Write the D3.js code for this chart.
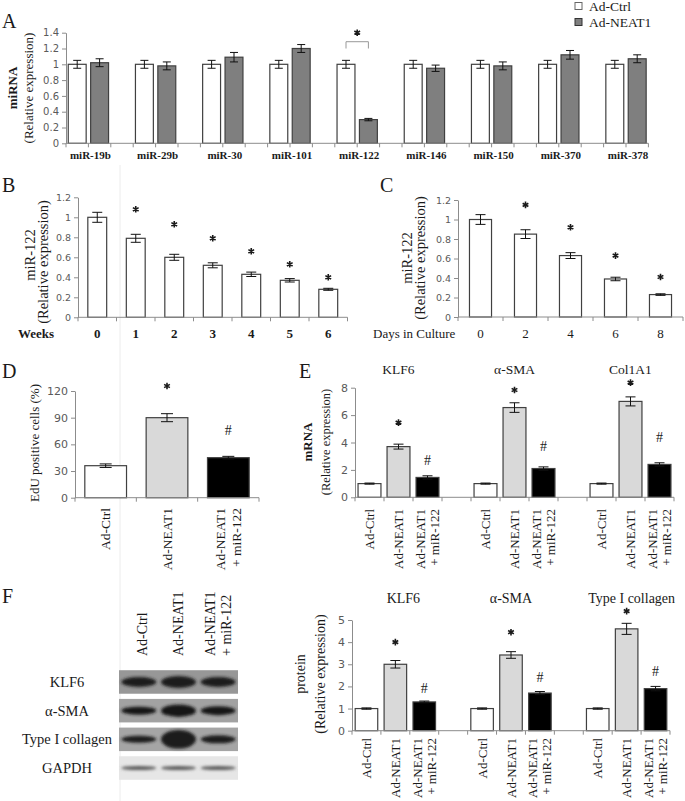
<!DOCTYPE html>
<html><head><meta charset="utf-8">
<script src="https://cdn.jsdelivr.net/npm/d3@7"></script>
<style>body{margin:0;background:#fff}svg{display:block}</style>
</head><body><script>
// ================= DATA =================
// Panel A
const aCategories = ["miR-19b","miR-29b","miR-30","miR-101","miR-122","miR-146","miR-150","miR-370","miR-378"];
const aSeries = ["Ad-Ctrl","Ad-NEAT1"];
const aCtrl = [1,1,1,1,1,1,1,1,1];
const aCtrlErr = [0.05,0.05,0.05,0.05,0.05,0.05,0.05,0.05,0.05];
const aNeat = [1.02,0.98,1.09,1.20,0.30,0.95,0.98,1.12,1.07];
const aNeatErr = [0.05,0.05,0.06,0.05,0.015,0.04,0.05,0.055,0.05];
const aTicks = [0,0.2,0.4,0.6,0.8,1,1.2,1.4];
const aSigCategory = "miR-122";
const aSigLevel = [1.2,1.286,1.40]; // leg bottom, bracket, star
// Panel B
const bWeeks = ["0","1","2","3","4","5","6"];
const bValues = [1.00,0.79,0.60,0.52,0.43,0.37,0.28];
const bErr = [0.05,0.04,0.03,0.025,0.022,0.017,0.01];
const bStars = [null,1.08,0.93,0.79,0.66,0.53,0.40];
const bcTicks = [0,0.2,0.4,0.6,0.8,1,1.2];
// Panel C
const cDays = ["0","2","4","6","8"];
const cValues = [1.00,0.85,0.63,0.39,0.23];
const cErr = [0.05,0.045,0.03,0.018,0.008];
const cStars = [null,1.15,0.92,0.63,0.41];
// Groups used in D, E, F
const groups3 = [["Ad-Ctrl"],["Ad-NEAT1"],["Ad-NEAT1","+ miR-122"]];
const groupNames = ["Ad-Ctrl","Ad-NEAT1","Ad-NEAT1 + miR-122"];
// Panel D
const dValues = [36,90,45];
const dErr = [2,4.5,1.5];
const dMarks = ["","*","#"];
const dMarkAt = [null,125.6,76];
const dTicks = [0,30,60,90,120];
// Panel E
const eGenes = ["KLF6","α-SMA","Col1A1"];
const eValues = [[1,3.7,1.45],[1,6.55,2.1],[1,7.0,2.4]];
const eErr = [[0.04,0.18,0.12],[0.04,0.35,0.12],[0.04,0.33,0.12]];
const eStarAt = [5.45,7.83,8.37];
const eHashAt = [2.72,3.70,4.35];
const eTicks = [0,2,4,6,8];
// Panel F
const fProteins = ["KLF6","α-SMA","Type I collagen"];
const fValues = [[1,3.0,1.3],[1,3.42,1.7],[1,4.6,1.9]];
const fErr = [[0.03,0.17,0.04],[0.03,0.15,0.07],[0.03,0.25,0.1]];
const fStarAt = [4.0,4.45,5.4];
const fHashAt = [1.92,2.42,2.67];
const fTicks = [0,1,2,3,4,5];
// Western blot (relative band intensity per lane)
const blotRows = ["KLF6","α-SMA","Type I collagen","GAPDH"];
const blotIntensity = [[1.0,1.2,1.0],[0.8,1.25,0.9],[0.7,1.85,0.8],[0.42,0.42,0.42]];

// ================= STYLE =================
const SERIF = "'Liberation Serif','Times New Roman',serif";
const SANS = "'DejaVu Sans',Verdana,sans-serif";
const AX = "#8c8c8c";
const BAR_STROKE = "#404040";
const FILL3 = ["#ffffff","#d9d9d9","#000000"];

const svg = d3.select("body").append("svg").attr("width",685).attr("height",801);

// faint divider (scan artifact)
svg.append("line").attr("x1",120).attr("x2",120).attr("y1",165).attr("y2",801).attr("stroke","#ececec");

function text(x,y,s,fs,opts={}){
  const t = svg.append("text").attr("x",x).attr("y",y).text(s)
    .attr("font-family",opts.family||SERIF).attr("font-size",fs)
    .attr("fill",opts.fill||"#1a1a1a")
    .attr("text-anchor",opts.anchor||"start");
  if(opts.bold) t.attr("font-weight","bold");
  return t;
}
function rotText(x,y,s,fs,opts={}){
  const t = svg.append("text").attr("transform",`translate(${x},${y}) rotate(-90)`)
    .attr("dy","0.35em").text(s)
    .attr("font-family",SERIF).attr("font-size",fs).attr("fill","#1a1a1a")
    .attr("text-anchor",opts.anchor||"middle");
  if(opts.bold) t.attr("font-weight","bold");
  return t;
}
function mark(x,cy,s,fs){
  if(s==="*"){
    const r = 3.3;
    const d = [90,30,150].map(a=>{
      const rad = a*Math.PI/180, dx = r*Math.cos(rad), dy = r*Math.sin(rad);
      return `M${x-dx},${cy-dy}L${x+dx},${cy+dy}`;
    }).join("");
    svg.append("path").attr("d",d).attr("stroke","#1a1a1a").attr("stroke-width",1.6).attr("fill","none");
  } else {
    text(x,cy+0.34*fs,s,fs,{anchor:"middle"});
  }
}
function yAxis(scale,x,ticks,fs){
  const g = svg.append("g").attr("transform",`translate(${x},0)`)
    .call(d3.axisLeft(scale).tickValues(ticks).tickSize(4).tickSizeOuter(0).tickPadding(3).tickFormat(d3.format("~g")));
  g.attr("font-family",SANS).attr("font-size",fs);
  g.select(".domain").attr("stroke",AX);
  g.selectAll(".tick line").attr("stroke",AX);
  g.selectAll(".tick text").attr("fill","#5a5a5a");
}
function xBaseline(x,y0){
  const r = x.range();
  svg.append("line").attr("x1",r[0]).attr("x2",r[1]).attr("y1",y0).attr("y2",y0).attr("stroke",AX);
  const bounds = x.domain().map(d=>x(d)).concat([r[1]]);
  svg.append("g").selectAll("line").data(bounds).join("line")
    .attr("x1",d=>d).attr("x2",d=>d).attr("y1",y0).attr("y2",y0+4).attr("stroke",AX);
}
function drawBars(data,x,y,frac,cap){
  const bw = x.bandwidth();
  const g = svg.append("g");
  g.selectAll("rect").data(data).join("rect")
    .attr("x",d=>x(d.slot)+bw*(1-frac)/2).attr("width",bw*frac)
    .attr("y",d=>y(d.v)).attr("height",d=>y(0)-y(d.v))
    .attr("fill",d=>d.fill).attr("stroke",BAR_STROKE).attr("stroke-width",1.2);
  const eg = g.append("g").attr("stroke","#111").attr("stroke-width",1);
  data.forEach(d=>{
    const cx = x(d.slot)+bw/2;
    eg.append("line").attr("x1",cx).attr("x2",cx).attr("y1",y(d.v-d.e)).attr("y2",y(d.v+d.e));
    eg.append("line").attr("x1",cx-cap/2).attr("x2",cx+cap/2).attr("y1",y(d.v-d.e)).attr("y2",y(d.v-d.e));
    eg.append("line").attr("x1",cx-cap/2).attr("x2",cx+cap/2).attr("y1",y(d.v+d.e)).attr("y2",y(d.v+d.e));
  });
}

// ================= PANEL A =================
text(2,28,"A",20);
const aSlots = [];
aCategories.forEach((c,i)=>{aSlots.push(c+"|ctrl",c+"|neat"); if(i<aCategories.length-1) aSlots.push(c+"|gap");});
const ax = d3.scaleBand().domain(aSlots).range([66,648.4]);
const ay = d3.scaleLinear().domain([0,1.4]).range([143.3,32.7]);
const aBars = aCategories.flatMap((c,i)=>[
  {slot:c+"|ctrl",v:aCtrl[i],e:aCtrlErr[i],fill:"#ffffff"},
  {slot:c+"|neat",v:aNeat[i],e:aNeatErr[i],fill:"#7f7f7f"}]);
drawBars(aBars,ax,ay,0.8,8);
xBaseline(ax,ay(0));
yAxis(ay,ax.range()[0],aTicks,10);
aCategories.forEach(c=>{
  text(ax(c+"|neat")+2,159,c,11,{anchor:"middle",bold:true});
});
// significance bracket
{
  const x1 = ax(aSigCategory+"|ctrl")+ax.bandwidth()/2, x2 = ax(aSigCategory+"|neat")+ax.bandwidth()/2;
  svg.append("path").attr("d",`M${x1},${ay(aSigLevel[0])}V${ay(aSigLevel[1])}H${x2}V${ay(aSigLevel[0])}`)
    .attr("fill","none").attr("stroke","#999").attr("stroke-width",1);
  mark((x1+x2)/2,ay(aSigLevel[2]),"*",13);
}
rotText(12,88,"miRNA",13,{bold:true});
rotText(28,88,"(Relative expression)",13);
// legend
aSeries.forEach((s,i)=>{
  const cy = 6+i*16;
  svg.append("rect").attr("x",575).attr("y",cy-3.5).attr("width",7).attr("height",7)
    .attr("fill",i===0?"#fff":"#7f7f7f").attr("stroke",i===0?"#666":"#333").attr("stroke-width",1);
  text(589,cy+4.5,s,13.5);
});

// ================= PANEL B =================
text(2,192,"B",20);
const bx = d3.scaleBand().domain(bWeeks).range([78,347.5]);
const by = d3.scaleLinear().domain([0,1.2]).range([317.3,197.3]);
drawBars(bWeeks.map((w,i)=>({slot:w,v:bValues[i],e:bErr[i],fill:"#fff"})),bx,by,0.49,10);
xBaseline(bx,by(0));
yAxis(by,bx.range()[0],bcTicks,9.5);
bWeeks.forEach((w,i)=>{
  text(bx(w)+bx.bandwidth()/2,337.5,w,13,{anchor:"middle",bold:true});
  if(bStars[i]!=null) mark(bx(w)+bx.bandwidth()/2,by(bStars[i]),"*",13);
});
text(18,337.5,"Weeks",13,{bold:true});
rotText(30,255,"miR-122",14.5);
rotText(43,262,"(Relative expression)",14.5);

// ================= PANEL C =================
text(380,192,"C",20);
const cx = d3.scaleBand().domain(cDays).range([458,683]);
const cy = d3.scaleLinear().domain([0,1.2]).range([317,200]);
drawBars(cDays.map((d,i)=>({slot:d,v:cValues[i],e:cErr[i],fill:"#fff"})),cx,cy,0.49,10);
xBaseline(cx,cy(0));
yAxis(cy,cx.range()[0],bcTicks,9.5);
cDays.forEach((d,i)=>{
  text(cx(d)+cx.bandwidth()/2,337.5,d,13,{anchor:"middle"});
  if(cStars[i]!=null) mark(cx(d)+cx.bandwidth()/2,cy(cStars[i]),"*",13);
});
text(373,337.5,"Days in Culture",13);
rotText(407,258,"miR-122",14.5);
rotText(420,258,"(Relative expression)",14.5);

// helper for rotated multi-line group labels
function groupLabels(x,slots,yTop,fs,gap){
  slots.forEach((s,i)=>{
    const c = x(s)+x.bandwidth()/2;
    const lines = groups3[i%3];
    lines.forEach((ln,j)=>{
      const off = (j-(lines.length-1)/2)*gap;
      rotText(c+off,yTop,ln,fs,{anchor:"end"});
    });
  });
}

// ================= PANEL D =================
text(2,378,"D",20);
const dx = d3.scaleBand().domain(groupNames).range([75,259]);
const dy = d3.scaleLinear().domain([0,120]).range([497.7,391]);
drawBars(groupNames.map((g,i)=>({slot:g,v:dValues[i],e:dErr[i],fill:FILL3[i]})),dx,dy,0.68,12);
xBaseline(dx,dy(0));
yAxis(dy,dx.range()[0],dTicks,11);
groupNames.forEach((g,i)=>{ if(dMarks[i]) mark(dx(g)+dx.bandwidth()/2,dy(dMarkAt[i]),dMarks[i],14); });
groupLabels(dx,groupNames,508,13.5,16);
rotText(34,443,"EdU positive cells (%)",13);

// ================= PANEL E =================
text(299,378,"E",20);
const eSlots = [];
eGenes.forEach((g,i)=>{ groupNames.forEach(n=>eSlots.push(g+"|"+n)); if(i<eGenes.length-1) eSlots.push(g+"|gap"); });
const ex = d3.scaleBand().domain(eSlots).range([355,674]);
const ey = d3.scaleLinear().domain([0,8]).range([497.3,387.7]);
const eBars = eGenes.flatMap((g,gi)=>groupNames.map((n,i)=>({slot:g+"|"+n,v:eValues[gi][i],e:eErr[gi][i],fill:FILL3[i]})));
drawBars(eBars,ex,ey,0.79,10);
xBaseline(ex,ey(0));
yAxis(ey,ex.range()[0],eTicks,11);
eGenes.forEach((g,gi)=>{
  const c1 = ex(g+"|"+groupNames[1])+ex.bandwidth()/2;
  const c2 = ex(g+"|"+groupNames[2])+ex.bandwidth()/2;
  text(c1,374,g,13.5,{anchor:"middle"});
  mark(c1,ey(eStarAt[gi]),"*",13);
  mark(c2,ey(eHashAt[gi]),"#",14);
});
groupLabels(ex,eBars.map(d=>d.slot),509,13,14);
rotText(307,442,"mRNA",13,{bold:true});
rotText(326,442,"(Relative expression)",12.5);

// ================= PANEL F : blot =================
text(2,603,"F",20);
const lane = d3.scaleBand().domain(groupNames).range([119,238]);
const row = d3.scaleBand().domain(blotRows).range([668.5,781.5]).paddingInner(0.18).paddingOuter(0.06);
const bandH = d3.scaleLinear().domain([0,1]).range([0,5]);
const defs = svg.append("defs");
defs.append("filter").attr("id","blur").attr("x","-30%").attr("y","-100%").attr("width","160%").attr("height","300%")
  .append("feGaussianBlur").attr("stdDeviation",1.6);
const rowBg = ["#979797","#a2a2a2","#a5a5a5","#e6e6e6"];
const rowInk = ["#1c1c1c","#151515","#1a1a1a","#5a5a5a"];
blotRows.forEach((r,ri)=>{
  svg.append("rect").attr("x",lane.range()[0]).attr("width",lane.range()[1]-lane.range()[0])
    .attr("y",row(r)).attr("height",row.bandwidth()).attr("fill",rowBg[ri]);
  groupNames.forEach((g,li)=>{
    const k = blotIntensity[ri][li];
    svg.append("ellipse").attr("cx",lane(g)+lane.bandwidth()/2).attr("cy",row(r)+row.bandwidth()/2)
      .attr("rx",lane.bandwidth()*0.44).attr("ry",bandH(k))
      .attr("fill",rowInk[ri]).attr("filter","url(#blur)");
  });
  text(67,row(r)+row.bandwidth()/2+5,r,14.5,{anchor:"middle"});
});
groupNames.forEach((g,i)=>{
  const c = lane(g)+lane.bandwidth()/2;
  const lines = groups3[i];
  lines.forEach((ln,j)=>{
    const off = (j-(lines.length-1)/2)*16 + (i===0?3:0);
    rotText(c+off,656,ln,14,{anchor:"start"});
  });
});

// ================= PANEL F : chart =================
const fSlots = [];
fProteins.forEach((p,i)=>{ groupNames.forEach(n=>fSlots.push(p+"|"+n)); if(i<fProteins.length-1) fSlots.push(p+"|gap"); });
const fx = d3.scaleBand().domain(fSlots).range([352,670]);
const fy = d3.scaleLinear().domain([0,5]).range([730.7,620]);
const fBars = fProteins.flatMap((p,pi)=>groupNames.map((n,i)=>({slot:p+"|"+n,v:fValues[pi][i],e:fErr[pi][i],fill:FILL3[i]})));
drawBars(fBars,fx,fy,0.78,10);
xBaseline(fx,fy(0));
yAxis(fy,fx.range()[0],fTicks,11);
fProteins.forEach((p,pi)=>{
  const c1 = fx(p+"|"+groupNames[1])+fx.bandwidth()/2;
  const c2 = fx(p+"|"+groupNames[2])+fx.bandwidth()/2;
  text(c1+(pi===0?8:0)+(pi===2?5:0),602.5,p,14,{anchor:"middle"});
  mark(c1,fy(fStarAt[pi]),"*",13);
  mark(c2,fy(fHashAt[pi]),"#",14);
});
groupLabels(fx,fBars.map(d=>d.slot),738,13,14);
rotText(300,674,"protein",14);
rotText(320,674,"(Relative expression)",14);
</script></body></html>
